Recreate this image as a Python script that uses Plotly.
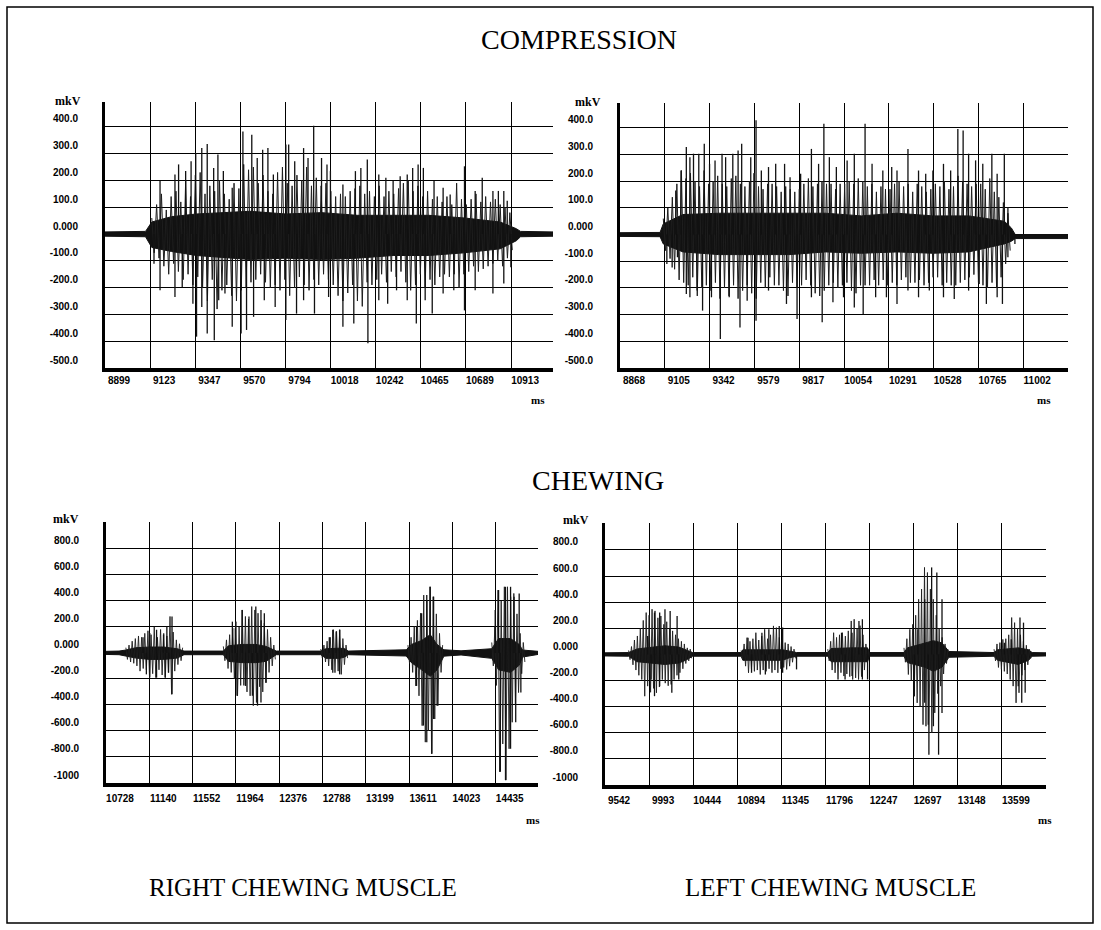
import plotly.graph_objects as go

W, H = 1101, 930

# ------------------------------------------------------------------ data
# COMPRESSION - right chewing muscle (top left panel)
compR_ticks = [8899, 9123, 9347, 9570, 9794, 10018, 10242, 10465, 10689, 10913]
compR_env_t = [8899, 9100, 9131, 9229, 9353, 9530, 9618, 9796, 9973, 10150, 10328,
               10505, 10682, 10859, 10939, 10960, 11121]
compR_env_hi = [8, 10, 45, 65, 75, 80, 85, 75, 80, 70, 70, 70, 60, 45, 20, 10, 8]
compR_env_lo = [-8, -10, -50, -65, -80, -90, -95, -90, -95, -90, -80, -80, -70, -55, -25,
                -10, -8]
# sampled peak-to-peak activity (one value every compR_dt ms from compR_t0)
compR_t0, compR_dt = 9131, 12
compR_wave = [60, -70, 110, -90, 150, -120, 90, -150, 140, -110,
              160, -140, 120, -170, 200, -150, 140, -190, 220, -160,
              230, -200, 150, -250, 180, -170, 160, -280, 200, -210,
              150, -190, 130, -230, 190, -250, 170, -210, 260, -200,
              240, -180, 250, -170, 190, -150, 220, -180, 160, -200,
              150, -190, 230, -210, 250, -170, 190, -230, 180, -200,
              220, -160, 200, -190, 250, -210, 180, -170, 210, -190,
              180, -150, 190, -170, 160, -190, 140, -230, 150, -250,
              140, -220, 160, -190, 170, -250, 180, -270, 150, -180,
              160, -190, 140, -170, 180, -150, 140, -180, 160, -140,
              150, -160, 170, -140, 190, -180, 200, -210, 160, -190,
              180, -150, 140, -200, 160, -170, 130, -190, 140, -160,
              120, -150, 140, -160, 110, -150, 190, -200, 130, -150,
              110, -140, 130, -120, 150, -140, 120, -130, 140, -120,
              120, -110, 130, -100, 110, -120, 100, -90, 80, -60]
compR_up_t = [9172, 9246, 9264, 9299, 9326, 9349, 9379, 9406, 9438, 9459, 9486, 9530,
              9583, 9627, 9654, 9681, 9707, 9734, 9796, 9810, 9840, 9884, 9906, 9934,
              9973, 10000, 10017, 10079, 10141, 10168, 10200, 10257, 10292, 10328, 10363,
              10398, 10425, 10452, 10478, 10531, 10576, 10611, 10682, 10735, 10770, 10823,
              10850, 10877, 10894]
compR_up_v = [198, 222, 260, 235, 272, 303, 321, 336, 247, 297, 235, 173,
              383, 371, 284, 315, 321, 222, 334, 334, 272, 321, 284, 404,
              284, 260, 235, 185, 235, 247, 278, 222, 210, 198, 216,
              222, 247, 260, 247, 198, 173, 148, 253, 161, 210, 161,
              161, 161, 124]
compR_dn_t = [9142, 9172, 9246, 9282, 9335, 9353, 9379, 9406, 9441, 9463, 9494, 9530,
              9574, 9601, 9636, 9689, 9743, 9796, 9849, 9884, 9938, 10008, 10079, 10133,
              10203, 10257, 10301, 10345, 10398, 10443, 10487, 10522, 10576, 10629, 10682,
              10735, 10823, 10877, 10912]
compR_dn_v = [-111, -210, -235, -198, -260, -383, -272, -371, -396, -247, -222, -346,
              -371, -358, -309, -247, -272, -321, -297, -247, -297, -235, -346, -334,
              -408, -247, -260, -210, -247, -334, -247, -297, -222, -210, -285,
              -210, -222, -185, -124]

# COMPRESSION - left chewing muscle (top right panel)
compL_ticks = [8868, 9105, 9342, 9579, 9817, 10054, 10291, 10528, 10765, 11002]
compL_env_t = [8868, 9080, 9097, 9201, 9390, 9579, 9768, 9957, 10146, 10334, 10524,
               10713, 10902, 10939, 10960, 11239]
compL_env_hi = [7, 8, 40, 75, 80, 80, 80, 80, 70, 80, 70, 70, 50, 25, 0, 0]
compL_env_lo = [-7, -8, -35, -65, -75, -75, -75, -65, -70, -65, -70, -65, -35, -25, -15,
                -15]
compL_t0, compL_dt = 9097, 12
compL_wave = [60, -60, 100, -90, 140, -130, 190, -170, 240, -180,
              210, -190, 230, -160, 200, -230, 180, -200, 240, -190,
              190, -210, 200, -180, 220, -240, 190, -200, 180, -230,
              210, -190, 220, -240, 190, -210, 180, -190, 200, -220,
              230, -240, 180, -180, 170, -200, 190, -160, 190, -190,
              180, -190, 160, -210, 180, -230, 170, -180, 160, -200,
              170, -190, 190, -170, 210, -190, 180, -220, 190, -230,
              200, -210, 190, -190, 190, -180, 170, -200, 190, -190,
              190, -180, 200, -210, 190, -220, 210, -190, 200, -190,
              180, -190, 190, -170, 160, -190, 180, -170, 170, -190,
              170, -180, 190, -190, 200, -170, 180, -160, 190, -180,
              160, -180, 190, -170, 180, -190, 160, -180, 170, -160,
              190, -160, 180, -190, 200, -180, 170, -190, 180, -190,
              220, -180, 200, -170, 190, -160, 180, -150, 190, -180,
              190, -190, 170, -200, 210, -180, 160, -200, 140, -160,
              120, -110, 80, -60]
compL_up_t = [9163, 9191, 9219, 9238, 9257, 9285, 9314, 9342, 9371, 9408, 9427, 9465,
              9493, 9512, 9560, 9588, 9616, 9654, 9692, 9739, 9768, 9824, 9881, 9919,
              9947, 9976, 10013, 10070, 10108, 10165, 10202, 10259, 10306, 10334, 10392,
              10448, 10486, 10524, 10580, 10618, 10656, 10684, 10713, 10750, 10788, 10836,
              10864, 10902, 10921]
compL_up_v = [165, 240, 328, 290, 303, 303, 340, 265, 278, 303, 290, 303,
              315, 340, 290, 428, 240, 253, 265, 265, 215, 228, 321, 265,
              415, 290, 253, 278, 303, 415, 265, 240, 253, 240, 321,
              240, 228, 240, 265, 240, 396, 390, 303, 278, 265, 303,
              228, 303, 103]
compL_dn_t = [9116, 9144, 9172, 9219, 9238, 9276, 9305, 9352, 9399, 9446, 9503, 9541,
              9588, 9654, 9749, 9805, 9881, 9938, 9995, 10051, 10108, 10155, 10221, 10278,
              10334, 10392, 10448, 10505, 10580, 10637, 10713, 10769, 10807, 10864, 10892,
              10921, 10958]
compL_dn_v = [-110, -123, -85, -223, -235, -210, -285, -235, -391, -235, -348, -248,
              -323, -210, -260, -316, -235, -329, -254, -235, -273, -298, -235, -235,
              -260, -210, -235, -210, -235, -241, -210, -185, -260, -235, -260,
              -85, -35]

# CHEWING - right chewing muscle (bottom left panel)
chewR_ticks = [10728, 11140, 11552, 11964, 12376, 12788, 13199, 13611, 14023, 14435]
chewR_env_t = [10728, 10852, 10917, 11014, 11144, 11275, 11405, 11470, 11844, 11893,
               12023, 12153, 12250, 12348, 12771, 12820, 12950, 12999, 13031, 13356,
               13584, 13633, 13730, 13812, 13877, 13942, 14105, 14397, 14462, 14576,
               14658, 14690, 14837]
chewR_env_hi = [12, 14, 22, 40, 45, 45, 32, 14, 14, 55, 65, 65, 50, 14, 14, 32, 36, 32,
                14, 20, 24, 65, 95, 140, 65, 24, 16, 32, 110, 110, 65, 22, 12]
chewR_env_lo = [-12, -14, -22, -40, -50, -50, -40, -14, -14, -65, -75, -75, -65, -14,
                -14, -42, -42, -32, -14, -20, -24, -75, -130, -180, -130, -25, -16, -42,
                -130, -150, -95, -32, -12]
chew_dt = 15
chewR_bursts = [
    (10917, [40, -50, 60, -70, 90, -80, 110, -100, 130, -140, 120, -120, 150, -130, 170,
             -190, 140, -160, 200, -190, 120, -130, 180, -170, 150, -190, 130, -150, 280,
             -318, 160, -140, 100, -90, 70, -60, 40]),
    (11844, [50, -60, 100, -120, 140, -150, 190, -200, 240, -330, 200, -250, 330, -250, 280,
             -300, 260, -330, 356, -406, 330, -381, 305, -260, 250, -300, 229, -229, 180,
             -150, 120, -100, 60, -50]),
    (12771, [30, -40, 60, -70, 90, -100, 120, -130, 178, -152, 165, -140, 178, -165, 110,
             -90, 60, -40]),
    (13600, [60, -80, 120, -150, 203, -254, 250, -330, 305, -559, 444, -686, 400, -600, 508,
             -775, 432, -508, 300, -406, 150, -150, 60]),
    (14397, [80, -100, 200, -250, 483, -914, 400, -700, 508, -978, 508, -737, 432, -533,
             457, -400, 300, -305, 150, -160, 80, -70]),
]
chewR_up_t = [11080, 11144, 11209, 11275, 11307, 11356, 11930, 11958, 12023, 12088,
              12153, 12202, 12234, 12852, 12885, 12917, 12950, 13682, 13730, 13779,
              13812, 13844, 14430, 14462, 14528, 14576, 14609, 14658]
chewR_up_v = [120, 152, 178, 140, 203, 279, 240, 190, 330, 279, 356, 330, 305, 120,
              178, 165, 178, 203, 305, 444, 508, 432, 330, 483, 508, 508, 432, 457]
chewR_dn_t = [11112, 11144, 11209, 11291, 11323, 11356, 11974, 12055, 12120, 12169,
              12202, 12250, 12885, 12950, 13682, 13747, 13779, 13828, 13844, 13877,
              14479, 14528, 14576, 14625, 14674]
chewR_dn_v = [-165, -190, -190, -190, -152, -318, -330, -254, -330, -406, -381, -229,
              -152, -165, -254, -559, -686, -775, -508, -406, -914, -978, -737, -533, -305]

# CHEWING - left chewing muscle (bottom right panel)
chewL_ticks = [9542, 9993, 10444, 10894, 11345, 11796, 12247, 12697, 13148, 13599]
chewL_env_t = [9542, 9783, 9871, 10013, 10155, 10296, 10367, 10438, 10934, 10951,
               11146, 11358, 11429, 11500, 11819, 11854, 12067, 12226, 12244, 12598,
               12633, 12810, 12899, 12987, 13058, 13519, 13554, 13766, 13872, 13908, 14050]
chewL_env_hi = [12, 14, 42, 56, 66, 56, 35, 14, 14, 35, 35, 35, 25, 14, 14, 45, 50, 50,
                14, 14, 50, 88, 105, 88, 22, 14, 35, 50, 35, 14, 12]
chewL_env_lo = [-12, -14, -56, -66, -77, -66, -45, -14, -14, -45, -45, -45, -25, -14,
                -14, -56, -56, -56, -14, -14, -63, -98, -130, -98, -22, -14, -45, -77,
                -45, -14, -12]
chewL_bursts = [
    (9783, [30, -40, 60, -80, 110, -120, 141, -160, 200, -192, 260, -320, 320, -243, 300,
            -290, 346, -260, 333, -294, 280, -250, 294, -192, 230, -220, 250, -240, 200,
            -230, 180, -192, 150, -160, 120, -140, 100, -110, 80, -70, 50, -50, 40, -30]),
    (10934, [30, -40, 80, -90, 128, -141, 100, -110, 120, -130, 166, -120, 110, -154, 140,
             -120, 192, -130, 120, -110, 150, -140, 218, -120, 205, -141, 130, -110, 110,
             -100, 90, -115, 80, -90, 60, -60, 40, -30]),
    (11819, [40, -50, 100, -120, 166, -141, 130, -192, 150, -140, 166, -166, 140, -150, 180,
             -170, 256, -192, 269, -180, 200, -192, 220, -170, 150, -120, 80, -60, 40]),
    (12598, [50, -60, 120, -154, 192, -200, 230, -320, 300, -371, 422, -400, 500, -538, 666,
             -550, 627, -768, 500, -600, 422, -448, 300, -300, 200, -243, 130, -150, 80,
             -70, 40]),
    (13519, [40, -50, 80, -100, 90, -115, 115, -130, 120, -150, 150, -192, 282, -243, 243,
             -371, 200, -294, 150, -160, 100, -120, 70, -80, 40, -30]),
]
chewL_up_t = [9978, 10048, 10101, 10155, 10208, 10279, 11004, 11146, 11217, 11323,
              11358, 11960, 12067, 12138, 12173, 12740, 12810, 12881, 12934, 12987,
              13624, 13695, 13784, 13820]
chewL_up_v = [141, 320, 320, 346, 333, 294, 128, 166, 192, 218, 205, 166, 166, 256,
              269, 192, 422, 666, 627, 422, 90, 115, 282, 243]
chewL_dn_t = [10013, 10048, 10101, 10225, 10296, 11040, 11181, 11358, 11500, 11996,
              12067, 12173, 12226, 12704, 12810, 12846, 12899, 12952, 12987, 13766,
              13802, 13837]
chewL_dn_v = [-192, -320, -243, -294, -192, -141, -154, -141, -115, -192, -166, -192,
              -192, -320, -371, -538, -550, -768, -448, -243, -371, -294]

comp_yticks = [400, 300, 200, 100, 0, -100, -200, -300, -400, -500]
comp_ytext = ["400.0", "300.0", "200.0", "100.0", "0.000", "-100.0", "-200.0",
              "-300.0", "-400.0", "-500.0"]
chew_yticks = [800, 600, 400, 200, 0, -200, -400, -600, -800, -1000]
chew_ytext = ["800.0", "600.0", "400.0", "200.0", "0.000", "-200.0", "-400.0",
              "-600.0", "-800.0", "-1000"]

titles = ["COMPRESSION", "CHEWING"]
muscles = ["RIGHT CHEWING MUSCLE", "LEFT CHEWING MUSCLE"]


# ------------------------------------------------------------------ helpers
def px_x(p):
    return p / W


def px_y(p):
    return 1 - p / H


def wave_xy(t0, dt, vals):
    return [t0 + k * dt for k in range(len(vals))], list(vals)


compR_waves = [wave_xy(compR_t0, compR_dt, compR_wave)]
compL_waves = [wave_xy(compL_t0, compL_dt, compL_wave)]
chewR_waves = [wave_xy(t0, chew_dt, v) for t0, v in chewR_bursts]
chewL_waves = [wave_xy(t0, chew_dt, v) for t0, v in chewL_bursts]

panels = [
    dict(env=(compR_env_t, compR_env_hi, compR_env_lo), waves=compR_waves,
         up=(compR_up_t, compR_up_v), dn=(compR_dn_t, compR_dn_v),
         ticks=compR_ticks, xr=[8899, 11121], yt=comp_yticks, ytx=comp_ytext,
         yr=[-500, 493], box=(105, 553, 102, 368), xstand=0, ww=1.0),
    dict(env=(compL_env_t, compL_env_hi, compL_env_lo), waves=compL_waves,
         up=(compL_up_t, compL_up_v), dn=(compL_dn_t, compL_dn_v),
         ticks=compL_ticks, xr=[8868, 11239], yt=comp_yticks, ytx=comp_ytext,
         yr=[-500, 493], box=(620, 1068, 103, 368), xstand=0, ww=1.0),
    dict(env=(chewR_env_t, chewR_env_hi, chewR_env_lo), waves=chewR_waves,
         up=(chewR_up_t, chewR_up_v), dn=(chewR_dn_t, chewR_dn_v),
         ticks=chewR_ticks, xr=[10728, 14837], yt=chew_yticks, ytx=chew_ytext,
         yr=[-1000, 1006], box=(106, 538, 522, 783), xstand=3, ww=0.9),
    dict(env=(chewL_env_t, chewL_env_hi, chewL_env_lo), waves=chewL_waves,
         up=(chewL_up_t, chewL_up_v), dn=(chewL_dn_t, chewL_dn_v),
         ticks=chewL_ticks, xr=[9542, 14050], yt=chew_yticks, ytx=chew_ytext,
         yr=[-1000, 1006], box=(605, 1046, 523, 785), xstand=3, ww=0.9),
]

fig = go.Figure()
layout = dict(
    width=W, height=H, autosize=False,
    margin=dict(l=0, r=0, t=0, b=0),
    paper_bgcolor="white", plot_bgcolor="white",
    showlegend=False,
)

tickfont = dict(family="Liberation Sans", size=10, color="black", weight="bold")

for i, p in enumerate(panels, start=1):
    xa = "x" if i == 1 else f"x{i}"
    ya = "y" if i == 1 else f"y{i}"
    t, hi, lo = p["env"]
    # dense core of the EMG signal
    fig.add_trace(go.Scatter(
        x=list(t) + list(t)[::-1], y=list(hi) + list(lo)[::-1],
        fill="toself", fillcolor="#111111", mode="lines",
        line=dict(color="#111111", width=1), xaxis=xa, yaxis=ya,
        hoverinfo="skip"))
    # oscillating activity
    for wx, wy in p["waves"]:
        fig.add_trace(go.Scatter(
            x=wx, y=wy, mode="lines", line=dict(color="#1e1e1e", width=p["ww"]),
            xaxis=xa, yaxis=ya, hoverinfo="skip"))
    # individual large spikes
    sx, sy = [], []
    for tt, vv in zip(*p["up"]):
        sx += [tt, tt, None]
        sy += [0, vv, None]
    for tt, vv in zip(*p["dn"]):
        sx += [tt, tt, None]
        sy += [0, vv, None]
    fig.add_trace(go.Scatter(
        x=sx, y=sy, mode="lines", line=dict(color="#111111", width=1.3),
        xaxis=xa, yaxis=ya, hoverinfo="skip"))

    l, r, top, bot = p["box"]
    layout[f"xaxis{'' if i == 1 else i}"] = dict(
        domain=[px_x(l), px_x(r)], range=p["xr"], anchor=ya,
        tickmode="array", tickvals=p["ticks"], ticktext=[str(v) for v in p["ticks"]],
        showgrid=True, gridcolor="black", gridwidth=1.2, zeroline=False,
        showline=True, linecolor="black", linewidth=4, ticks="",
        tickfont=tickfont, ticklabelshift=14, ticklabelstandoff=p["xstand"],
    )
    layout[f"yaxis{'' if i == 1 else i}"] = dict(
        domain=[px_y(bot), px_y(top)], range=p["yr"], anchor=xa,
        tickmode="array", tickvals=p["yt"], ticktext=p["ytx"],
        showgrid=True, gridcolor="black", gridwidth=1.2, zeroline=False,
        showline=True, linecolor="black", linewidth=3, ticks="",
        tickfont=tickfont, ticklabelshift=-8, ticklabelstandoff=22,
    )

ann = []
serif = "Liberation Serif"
ann.append(dict(text=titles[0], x=px_x(579), y=px_y(40), font=dict(family=serif, size=28)))
ann.append(dict(text=titles[1], x=px_x(598), y=px_y(480), font=dict(family=serif, size=28)))
ann.append(dict(text=muscles[0], x=px_x(303), y=px_y(887), font=dict(family=serif, size=25)))
ann.append(dict(text=muscles[1], x=px_x(830), y=px_y(887), font=dict(family=serif, size=25)))
for (mx, my) in [(68, 101), (588, 102), (66, 519), (576, 520)]:
    ann.append(dict(text="mkV", x=px_x(mx), y=px_y(my),
                    font=dict(family=serif, size=12, weight="bold")))
for (mx, my) in [(538, 400), (1044, 400), (533, 820), (1045, 820)]:
    ann.append(dict(text="ms", x=px_x(mx), y=px_y(my),
                    font=dict(family=serif, size=11, weight="bold")))
for a in ann:
    a.update(xref="paper", yref="paper", showarrow=False,
             xanchor="center", yanchor="middle")
    a["font"]["color"] = "black"
layout["annotations"] = ann

layout["shapes"] = [dict(type="rect", xref="paper", yref="paper",
                         x0=px_x(7), x1=px_x(1093), y0=px_y(923), y1=px_y(7),
                         line=dict(color="black", width=1.5))]

fig.update_layout(**layout)
fig.write_html(
    "out.html",
    config={"displayModeBar": False},
    post_script="document.body.style.margin='0';document.body.style.overflow='hidden';",
)
